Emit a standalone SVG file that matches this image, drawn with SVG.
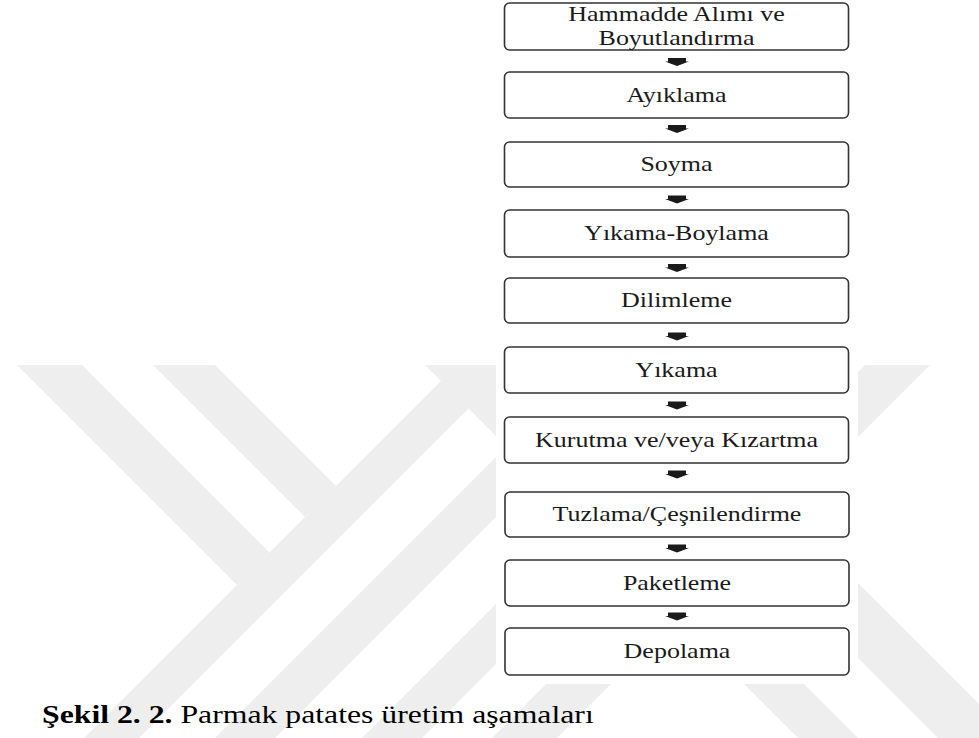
<svg xmlns="http://www.w3.org/2000/svg" width="979" height="738" viewBox="0 0 979 738">
  <defs>
    <style>
      .wm { fill: #eeeeee; }
      .box { fill: #ffffff; stroke: #333333; stroke-width: 1.6; }
      .lbl { font-family: "Liberation Serif", "Times New Roman", serif; font-size: 20px; fill: #1a1a1a; text-anchor: middle; }
      .cap { font-family: "Liberation Serif", "Times New Roman", serif; font-size: 25px; fill: #000000; }
      .arr { fill: #1a1a1a; }
    </style>
    <clipPath id="wmclip">
      <rect x="0" y="365" width="979" height="373"/>
    </clipPath>
    <path id="arrow" d="M-9,0 H9 V3.5 H12 L0,8 L-12,3.5 H-9 Z"/>
  </defs>
  <rect x="0" y="0" width="979" height="738" fill="#ffffff"/>
  <g id="watermark" clip-path="url(#wmclip)">
    <polygon class="wm" points="-48,300 17,300 269.5,552.5 237,585"/>
    <polygon class="wm" points="88,300 150,300 336,486 305,517"/>
    <polygon class="wm" points="22,800 522,300 577,300 77,800"/>
    <polygon class="wm" points="153,800 653,300 713,300 213,800"/>
    <polygon class="wm" points="300,800 800,300 860,300 360,800"/>
    <polygon class="wm" points="430,800 930,300 995,300 495,800"/>
    <polygon class="wm" points="360,300 420,300 920,800 860,800"/>
    <polygon class="wm" points="700,500 775,500 1075,800 1000,800"/>
  </g>
  <rect x="496" y="0" width="362" height="684" fill="#ffffff"/>
  <g id="connectors">
    <use href="#arrow" class="arr" x="677" y="58"/>
    <use href="#arrow" class="arr" x="677" y="125"/>
    <use href="#arrow" class="arr" x="677" y="195.5"/>
    <use href="#arrow" class="arr" x="677" y="264"/>
    <use href="#arrow" class="arr" x="677" y="332.5"/>
    <use href="#arrow" class="arr" x="677" y="401.5"/>
    <use href="#arrow" class="arr" x="677" y="470.5"/>
    <use href="#arrow" class="arr" x="677" y="544.5"/>
    <use href="#arrow" class="arr" x="677" y="612.5"/>
  </g>
  <g id="n1">
    <rect class="box" x="504.5" y="3" width="344" height="47" rx="5"/>
    <text class="lbl" transform="matrix(1.3 0 0 1 676.5 21.3)">Hammadde Alımı ve</text>
    <text class="lbl" transform="matrix(1.3 0 0 1 676.5 44.8)">Boyutlandırma</text>
  </g>
  <g id="n2">
    <rect class="box" x="504.5" y="72" width="344" height="46" rx="5"/>
    <text class="lbl" transform="matrix(1.3 0 0 1 676.5 101.6)">Ayıklama</text>
  </g>
  <g id="n3">
    <rect class="box" x="504.5" y="142" width="344" height="45" rx="5"/>
    <text class="lbl" transform="matrix(1.3 0 0 1 676.5 171)">Soyma</text>
  </g>
  <g id="n4">
    <rect class="box" x="504.5" y="210" width="344" height="47" rx="5"/>
    <text class="lbl" transform="matrix(1.3 0 0 1 676.5 240)">Yıkama-Boylama</text>
  </g>
  <g id="n5">
    <rect class="box" x="504.5" y="278" width="344" height="45" rx="5"/>
    <text class="lbl" transform="matrix(1.3 0 0 1 676.5 307)">Dilimleme</text>
  </g>
  <g id="n6">
    <rect class="box" x="504.5" y="347" width="344" height="46" rx="5"/>
    <text class="lbl" transform="matrix(1.3 0 0 1 676.5 376.6)">Yıkama</text>
  </g>
  <g id="n7">
    <rect class="box" x="504.5" y="417" width="344" height="46" rx="5"/>
    <text class="lbl" transform="matrix(1.3 0 0 1 676.5 446.6)">Kurutma ve/veya Kızartma</text>
  </g>
  <g id="n8">
    <rect class="box" x="505" y="492" width="344" height="45" rx="5"/>
    <text class="lbl" transform="matrix(1.3 0 0 1 677 521)">Tuzlama/Çeşnilendirme</text>
  </g>
  <g id="n9">
    <rect class="box" x="505" y="560" width="344" height="46" rx="5"/>
    <text class="lbl" transform="matrix(1.3 0 0 1 677 589.6)">Paketleme</text>
  </g>
  <g id="n10">
    <rect class="box" x="505" y="628" width="344" height="47" rx="5"/>
    <text class="lbl" transform="matrix(1.3 0 0 1 677 658)">Depolama</text>
  </g>
  <g id="caption">
    <text class="cap" transform="matrix(1.27 0 0 1 42 723)"><tspan font-weight="bold">Şekil 2. 2.</tspan> Parmak patates üretim aşamaları</text>
  </g>
</svg>
